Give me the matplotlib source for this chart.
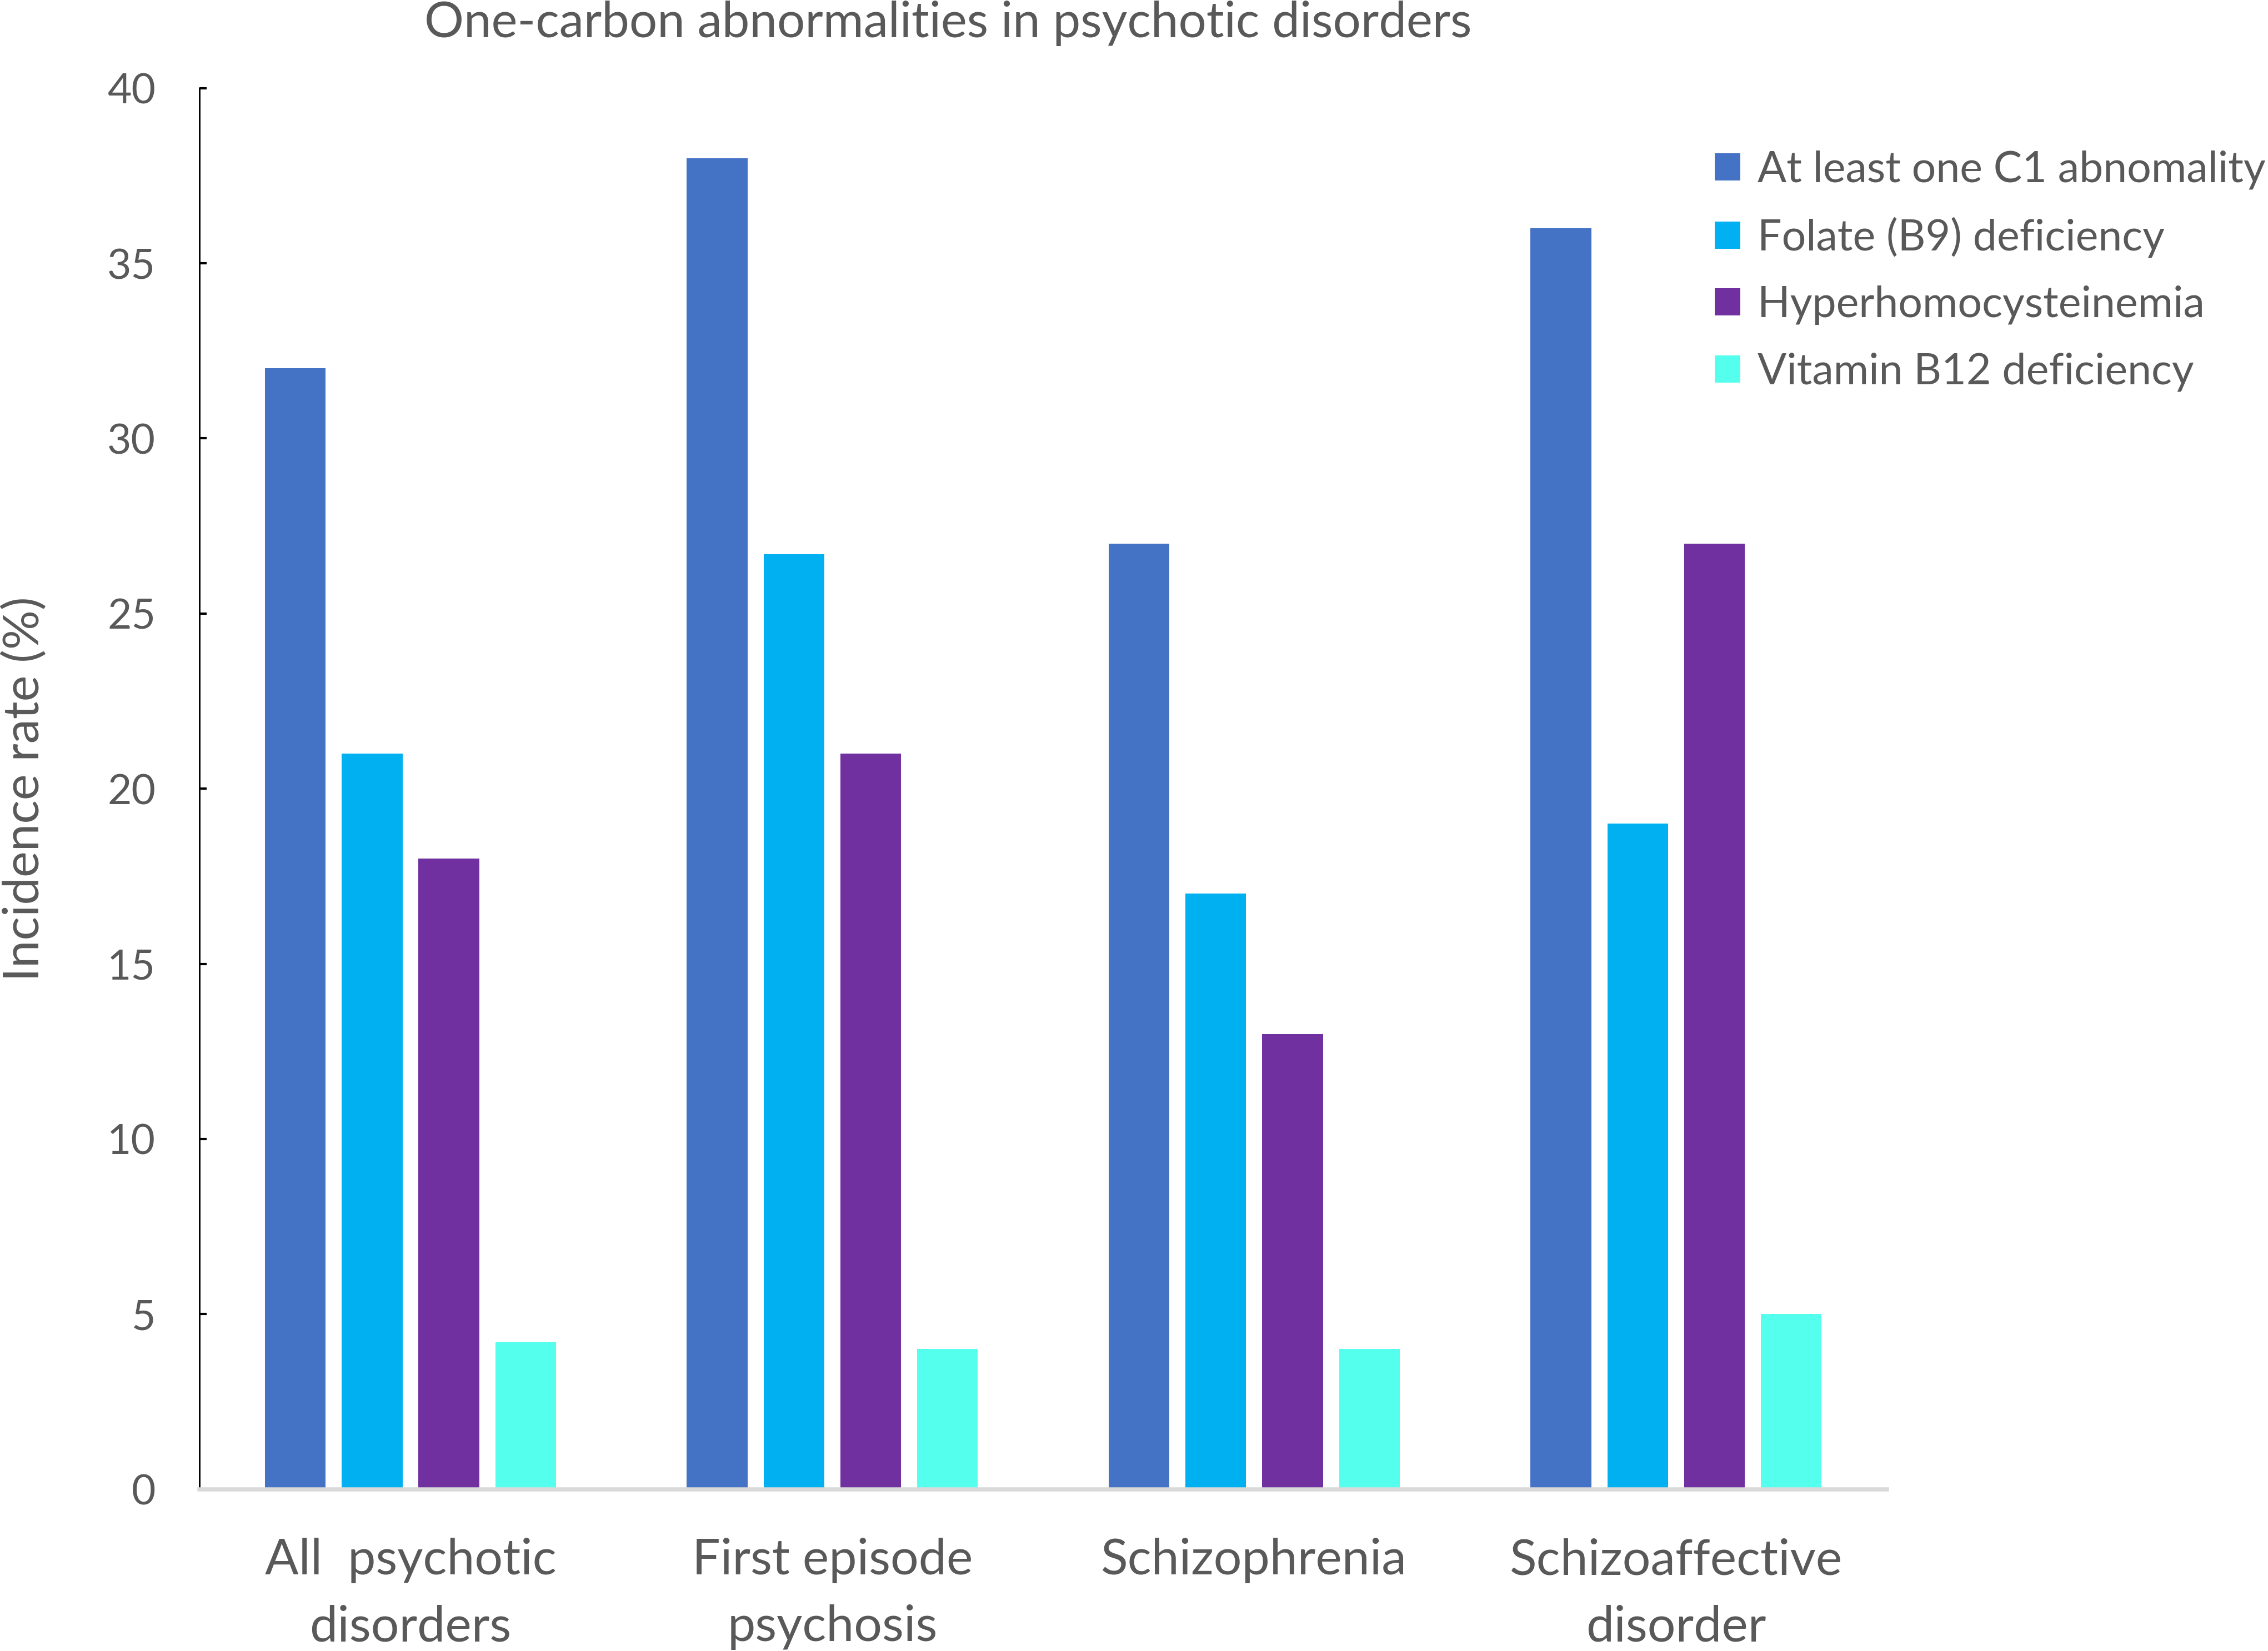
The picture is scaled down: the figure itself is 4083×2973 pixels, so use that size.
import matplotlib.pyplot as plt
import numpy as np

plt.rcParams['font.family'] = ['Lato', 'DejaVu Sans']

categories = ['All  psychotic\ndisorders', 'First episode\npsychosis', 'Schizophrenia', 'Schizoaffective\ndisorder']
series_names = ['At least one C1 abnomality', 'Folate (B9) deficiency', 'Hyperhomocysteinemia', 'Vitamin B12 deficiency']
at_least_one = [32, 38, 27, 36]
folate = [21, 26.7, 17, 19]
hyperhcy = [18, 21, 13, 27]
b12 = [4.2, 4, 4, 5]
colors = ['#4472C4', '#00B0F0', '#7030A0', '#55FFEE']
grey = '#595959'

fig = plt.figure(figsize=(4083/300, 2973/300), dpi=300)
ax = fig.add_axes([0.088, 0.098, 0.744, 0.8486])

x = np.arange(len(categories))
step = 0.182
width = 0.144
for i, (vals, name) in enumerate(zip([at_least_one, folate, hyperhcy, b12], series_names)):
    ax.bar(x + (i - 1.5) * step, vals, width, color=colors[i], label=name, zorder=2)

ax.set_xlim(-0.5, 3.5)
ax.set_ylim(0, 40)
ax.set_yticks(range(0, 41, 5))
ax.set_xticks(x)
ax.set_xticklabels(categories, fontsize=21.5, color=grey, linespacing=1.58)
ax.tick_params(axis='x', length=0, pad=21)
ax.tick_params(axis='y', direction='in', length=3, width=1, color='black', labelsize=18, labelcolor=grey, pad=19)

for s in ['top', 'right']:
    ax.spines[s].set_visible(False)
ax.spines['left'].set_linewidth(0.7)
ax.spines['left'].set_color('black')
ax.spines['bottom'].set_color('#D9D9D9')
ax.spines['bottom'].set_linewidth(1.8)

ax.set_ylabel('Incidence rate (%)', fontsize=21.3, color=grey)
ax.yaxis.set_label_coords(-0.09, 0.5)

fig.text(0.418, 0.986, 'One-carbon abnormalities in psychotic disorders', ha='center', va='center',
         fontsize=21.3, color=grey)

leg = ax.legend(loc='upper left', bbox_to_anchor=(0.756, 0.909), bbox_transform=fig.transFigure,
                frameon=False, fontsize=18.5, handlelength=0.6, handleheight=0.6, handletextpad=0.4,
                labelspacing=0.64, borderaxespad=0, borderpad=0)
for t in leg.get_texts():
    t.set_color(grey)

fig.savefig('out.png', dpi=300)
